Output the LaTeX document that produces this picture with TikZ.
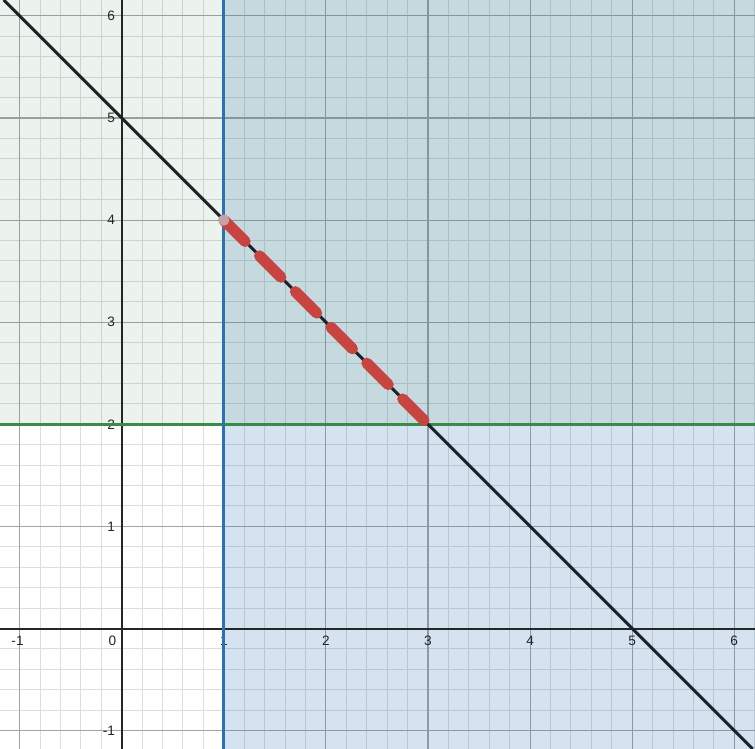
\documentclass[tikz,border=0pt]{standalone}
\usepackage{fontspec}
\setmainfont{Liberation Sans}
\definecolor{gridminor}{HTML}{DDDDDD}
\definecolor{gridmajor}{HTML}{A4A4A4}
\definecolor{axisblack}{HTML}{262626}
\definecolor{lineblue}{HTML}{2D70B3}
\definecolor{linegreen}{HTML}{388C46}
\definecolor{linered}{HTML}{C74440}
\definecolor{linedark}{HTML}{1C2328}
\definecolor{dotgrey}{HTML}{C4A3A7}
\tikzset{
  ticklabel/.style={font=\fontsize{3.8}{4.5}\selectfont,text=axisblack,inner sep=0pt},
  graphline/.style={line width=0.85pt},
  dashseg/.style={linered,line width=3.1pt,line cap=round,dash pattern=on 8.4pt off 5.7pt},
}
\begin{document}
\begin{tikzpicture}[x=1cm,y=1cm]
\useasboundingbox (-1.192,-1.180) rectangle (6.203,6.156);
% grid
\draw[gridminor,line width=0.28pt,step=0.2] (-1.192,-1.180) grid (6.203,6.156);
\draw[gridmajor,line width=0.3pt,step=1] (-1.192,-1.180) grid (6.203,6.156);
% shaded half planes
\fill[lineblue,opacity=0.2] (1,-1.180) rectangle (6.203,6.156);
\fill[linegreen,opacity=0.1] (-1.192,2) rectangle (6.203,6.156);
% axes
\draw[axisblack,line width=0.55pt] (-1.192,0) -- (6.203,0);
\draw[axisblack,line width=0.55pt] (0,-1.180) -- (0,6.156);
% tick labels
\node[ticklabel] (xlm1) at (-1.02,-0.119) {-1};
\node[ticklabel] (xl0) at (-0.09,-0.119) {0};
\foreach \n in {1,...,6}
  \node[ticklabel] (xl\n) at (\n,-0.119) {\n};
\node[ticklabel,anchor=east] (ylm1) at (-0.059,-1) {-1};
\foreach \n in {1,...,6}
  \node[ticklabel,anchor=east] (yl\n) at (-0.059,\n) {\n};
% constraint lines
\draw[linegreen,graphline] (-1.192,2) -- (6.203,2);
\draw[lineblue,graphline] (1,-1.180) -- (1,6.156);
\draw[linedark,graphline] (-1.156,6.156) -- (6.180,-1.180);
% feasible segment
\coordinate (P) at (1,4);
\coordinate (Q) at (3,2);
\draw[dashseg] (P) -- (Q);
\fill[dotgrey] (P) circle (0.055);
\end{tikzpicture}
\end{document}
